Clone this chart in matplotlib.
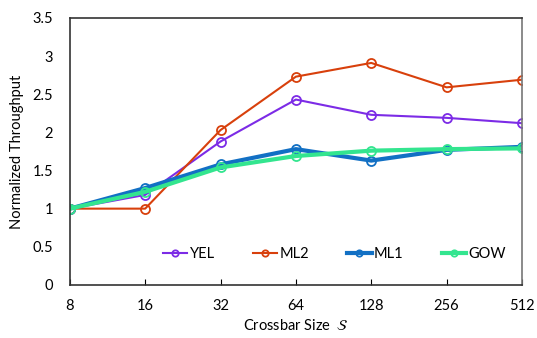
import matplotlib
matplotlib.use("Agg")
import matplotlib.pyplot as plt
from matplotlib.ticker import FuncFormatter

plt.rcParams['font.family'] = ['Lato', 'DejaVu Sans']

sizes = ['8', '16', '32', '64', '128', '256', '512']
yel = [1.0, 1.18, 1.88, 2.43, 2.23, 2.19, 2.12]
ml2 = [1.0, 1.0, 2.03, 2.73, 2.91, 2.59, 2.69]
ml1 = [1.0, 1.27, 1.58, 1.78, 1.63, 1.77, 1.81]
gow = [1.0, 1.22, 1.54, 1.69, 1.76, 1.78, 1.79]

fig = plt.figure(figsize=(5.37, 3.38), dpi=100)
ax = fig.add_axes([0.130, 0.157, 0.842, 0.790])

x = range(len(sizes))
ax.plot(x, yel, color='#7c2be6', lw=1.5, marker='o', ms=6.5, mfc='none', mew=1.3, label='YEL')
ax.plot(x, ml2, color='#d8400c', lw=1.5, marker='o', ms=6.5, mfc='none', mew=1.3, label='ML2')
ax.plot(x, ml1, color='#1270c4', lw=3, marker='o', ms=6.5, mfc='none', mew=1.3, label='ML1')
ax.plot(x, gow, color='#33e58f', lw=3, marker='o', ms=6.5, mfc='none', mew=1.3, label='GOW')

ax.set_xlim(0, 6)
ax.set_ylim(0, 3.5)
ax.set_xticks(list(x))
ax.set_xticklabels(sizes)
ax.set_yticks([i * 0.5 for i in range(8)])
ax.yaxis.set_major_formatter(FuncFormatter(lambda v, p: ('%g' % v)))
ax.tick_params(axis='x', direction='in', length=4, pad=10, labelsize=10.5)
ax.tick_params(axis='y', length=0, pad=12, labelsize=10.5)
for s in ax.spines.values():
    s.set_color('#333333')
    s.set_linewidth(1.2)
ax.spines['right'].set_color('#777777')

ax.set_xlabel(r'Crossbar Size  $\mathcal{S}$', fontsize=10.5, labelpad=4)
ax.set_ylabel('Normalized Throughput', fontsize=10.5, labelpad=6)

ax.legend(loc='center', bbox_to_anchor=(0.585, 0.116), ncol=4, frameon=False,
          fontsize=10.5, handlelength=1.7, columnspacing=2.6, handletextpad=0.15,
          markerscale=0.7)

fig.savefig('out.png', dpi=100)
